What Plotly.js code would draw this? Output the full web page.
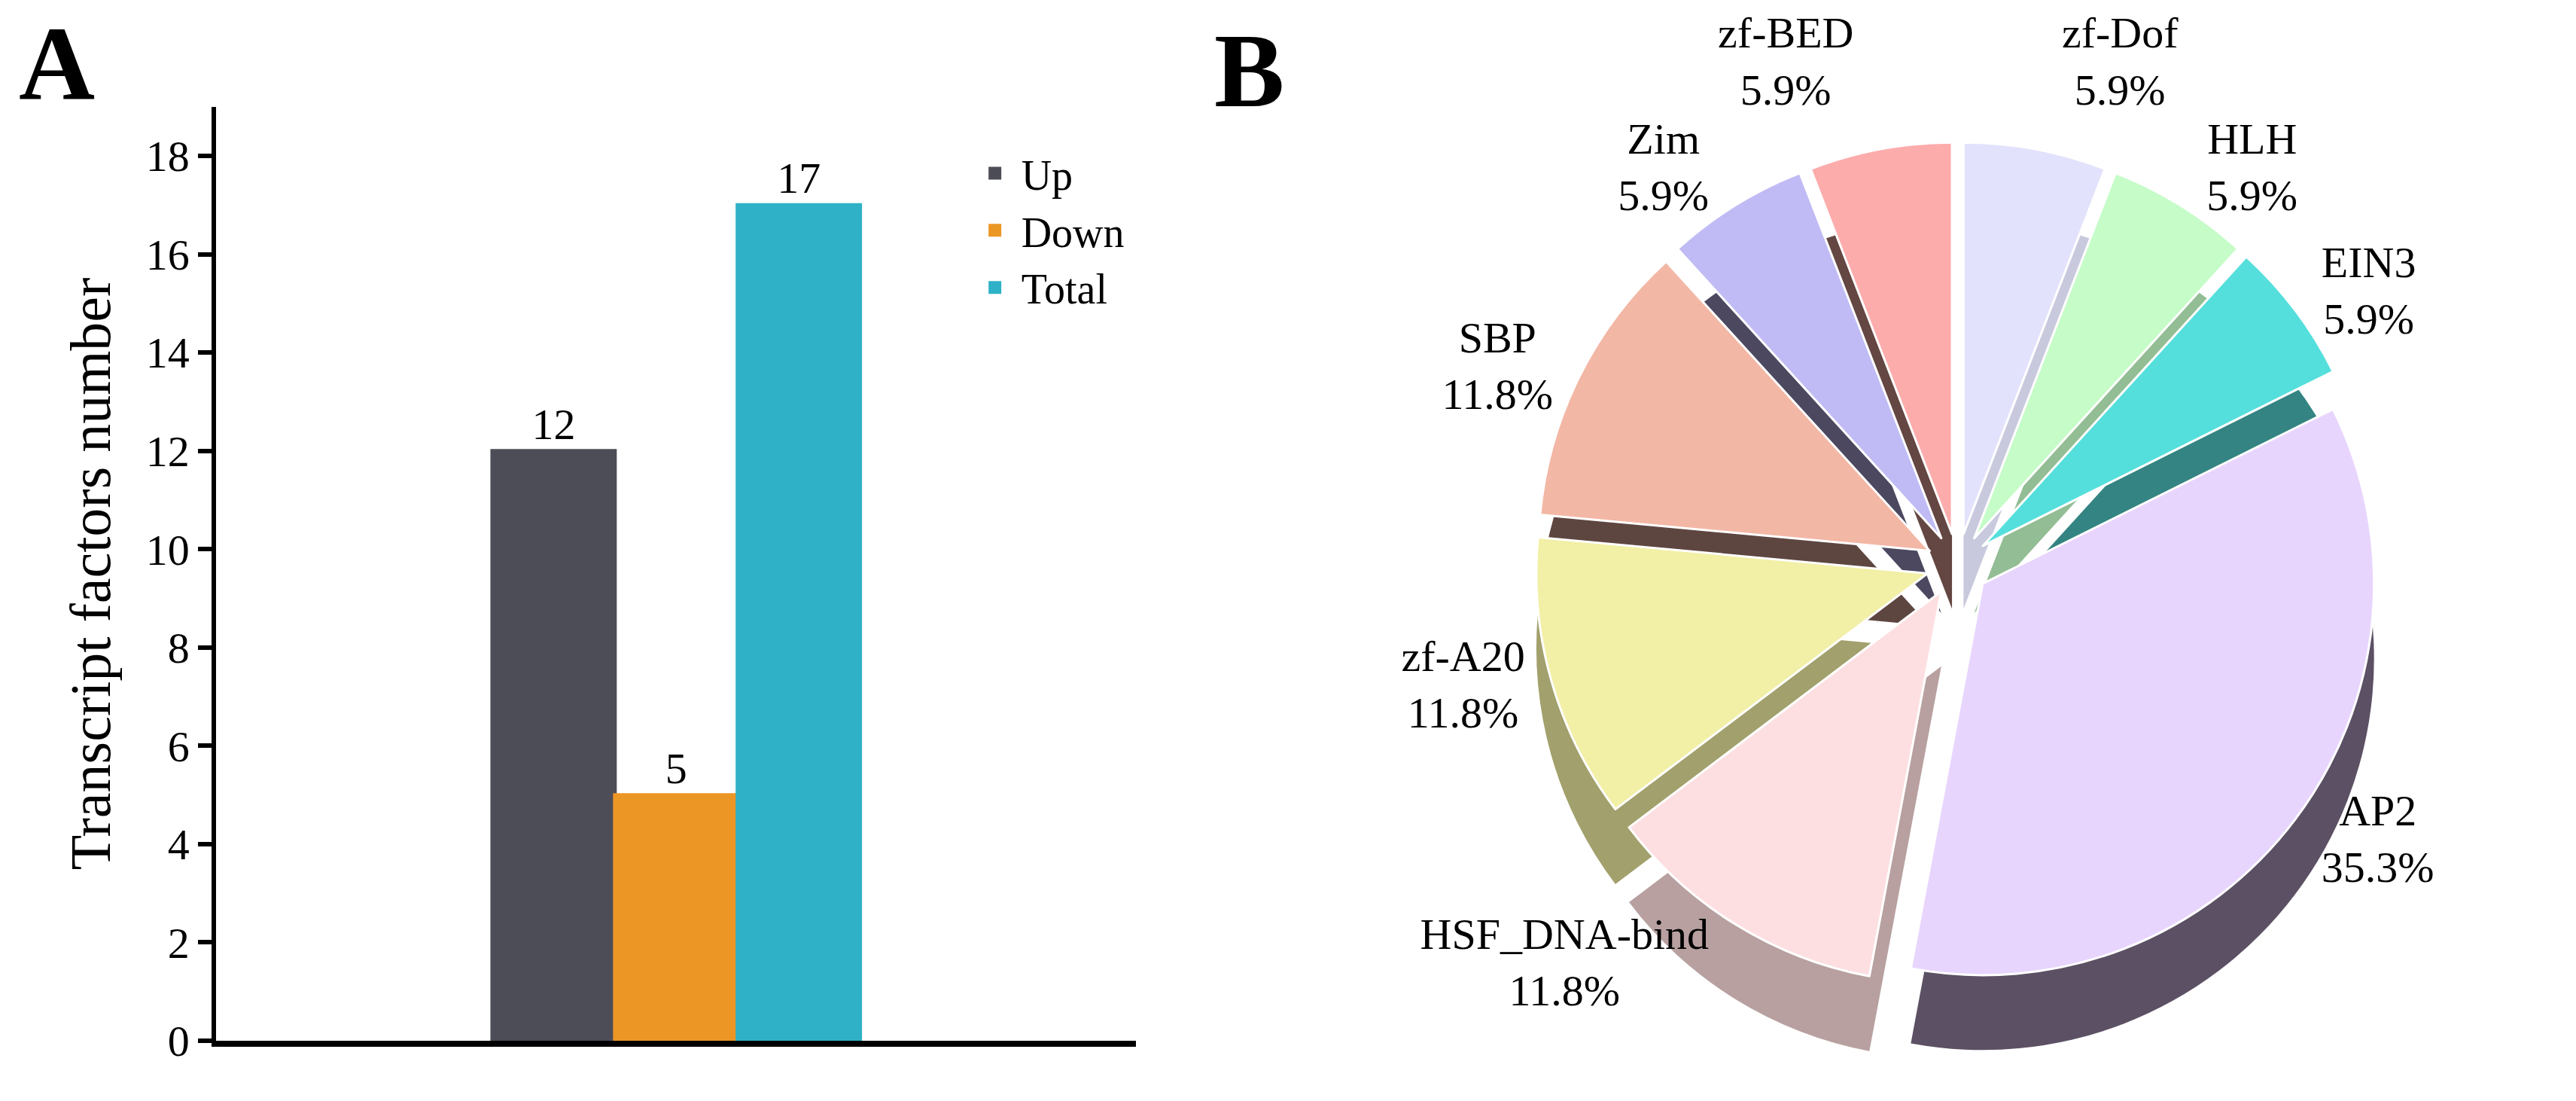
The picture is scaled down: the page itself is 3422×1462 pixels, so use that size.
<!DOCTYPE html>
<html>
<head>
<meta charset="utf-8">
<script src="https://cdn.plot.ly/plotly-3.0.1.min.js"></script>
<style>
  html, body { margin: 0; padding: 0; background: #fff; }
  #chart { width: 3422px; height: 1462px; }
  /* the reference has no leader lines next to the pie labels */
  #chart path.textline { stroke-opacity: 0 !important; }
</style>
</head>
<body>
<div id="chart"></div>
<script>
// panel A: differentially expressed transcript factors
var groups = ['Up', 'Down', 'Total'];
var counts = [12, 5, 17];
var barColors = ['#4d4d58', '#eb9625', '#2fb1c7'];

// panel B: transcription factor families
var families = ['zf-Dof', 'HLH', 'EIN3', 'AP2', 'HSF_DNA-bind', 'zf-A20', 'SBP', 'Zim', 'zf-BED'];
var familyCounts = [1, 1, 1, 6, 2, 2, 2, 1, 1];
var topColors = ['#e3e2fc', '#c5fcc7', '#55dfdc', '#e8d5fd', '#fddfe2', '#f2efa6', '#f3b7a5', '#c0bbf4', '#fdacac'];
var sideColors = ['#c9c9de', '#93bd94', '#338482', '#5c5064', '#b8a0a0', '#a2a06c', '#5e4640', '#4c4860', '#644642'];

var serif = 'Liberation Serif, Times New Roman, serif';
var pulls = families.map(function () { return 0.08; });

var data = [];

groups.forEach(function (g, i) {
    data.push({
        type: 'bar',
        name: g,
        x: ['TF'],
        y: [counts[i]],
        text: [String(counts[i])],
        textposition: 'outside',
        textfont: { family: serif, size: 58, color: '#000' },
        cliponaxis: false,
        marker: { color: barColors[i], line: { color: barColors[i], width: 5 } },
        xaxis: 'x',
        yaxis: 'y'
    });
});

// darker copy drawn underneath to give the pie some depth
data.push({
    type: 'pie',
    labels: families,
    values: familyCounts,
    sort: false,
    direction: 'clockwise',
    rotation: 0,
    pull: pulls,
    textinfo: 'none',
    hoverinfo: 'skip',
    showlegend: false,
    marker: { colors: sideColors, line: { color: '#ffffff', width: 0 } },
    domain: { x: [0.525, 0.995], y: [0.035, 0.803] }
});

data.push({
    type: 'pie',
    labels: families,
    values: familyCounts,
    sort: false,
    direction: 'clockwise',
    rotation: 0,
    pull: pulls,
    texttemplate: '%{label}<br>%{percent:.1%}',
    textposition: 'outside',
    textfont: { family: serif, size: 58, color: '#000' },
    showlegend: false,
    marker: { colors: topColors, line: { color: '#ffffff', width: 3 } },
    domain: { x: [0.525, 0.995], y: [0.103, 0.871] }
});

var layout = {
    width: 3422,
    height: 1462,
    margin: { l: 0, r: 0, t: 0, b: 0 },
    paper_bgcolor: '#fff',
    plot_bgcolor: '#fff',
    font: { family: serif, color: '#000' },
    barmode: 'group',
    bargap: 0.6,
    bargroupgap: 0,
    xaxis: {
        domain: [0.084, 0.441],
        showline: true,
        linewidth: 8,
        linecolor: '#000',
        ticks: '',
        showticklabels: false,
        showgrid: false,
        zeroline: false
    },
    yaxis: {
        domain: [0.0547, 0.903],
        range: [0, 19],
        dtick: 2,
        ticks: 'outside',
        ticklen: 18,
        tickwidth: 6,
        tickcolor: '#000',
        showline: true,
        linewidth: 6,
        linecolor: '#000',
        showgrid: false,
        zeroline: false,
        tickfont: { family: serif, size: 58, color: '#000' },
        title: { text: 'Transcript factors number', font: { family: serif, size: 76, color: '#000' }, standoff: 24 }
    },
    showlegend: true,
    legend: {
        x: 0.376,
        xanchor: 'left',
        y: 0.872,
        yanchor: 'top',
        font: { family: serif, size: 56, color: '#000' },
        itemwidth: 60,
        bgcolor: 'rgba(0,0,0,0)'
    },
    annotations: [
        { text: '<b>A</b>', x: 0.022, y: 0.9425, xref: 'paper', yref: 'paper', xanchor: 'center', yanchor: 'middle', showarrow: false, font: { family: serif, size: 140, color: '#000' } },
        { text: '<b>B</b>', x: 0.485, y: 0.936, xref: 'paper', yref: 'paper', xanchor: 'center', yanchor: 'middle', showarrow: false, font: { family: serif, size: 140, color: '#000' } }
    ]
};

Plotly.newPlot(document.getElementById('chart'), data, layout, { displayModeBar: false, staticPlot: true });
</script>
</body>
</html>
